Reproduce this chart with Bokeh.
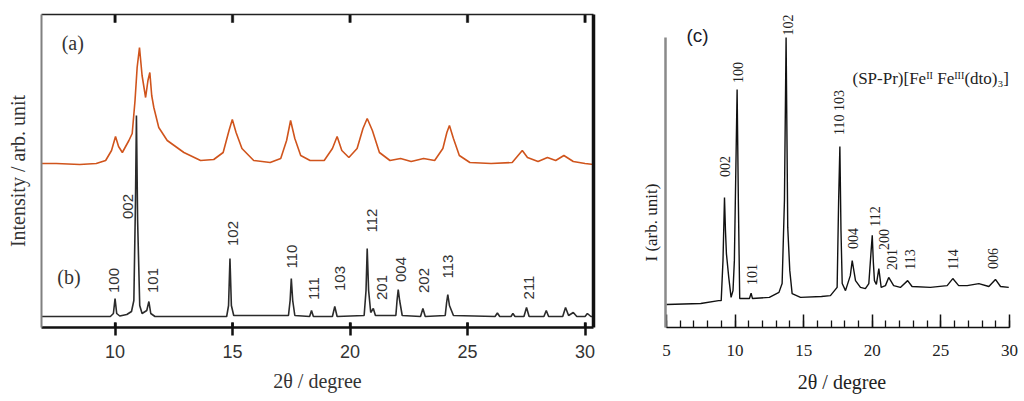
from math import pi
from bokeh.plotting import figure
from bokeh.models import Range1d, LinearAxis, FixedTicker, SingleIntervalTicker, ColumnDataSource, Title
from bokeh.layouts import row
from bokeh.core.properties import value
from bokeh.embed import file_html
from bokeh.resources import INLINE

# ---------------- Panel (a)/(b) data ----------------
two_theta_a = [6.87, 7.5, 8.5, 9.2, 9.6, 9.85, 10.02, 10.15, 10.31, 10.59, 10.73, 10.85, 10.94,
               11.04, 11.15, 11.3, 11.4, 11.48, 11.56, 11.65, 11.86, 12.22, 12.93, 13.64, 14.2,
               14.6, 14.85, 14.99, 15.15, 15.4, 15.9, 16.6, 17.05, 17.3, 17.47, 17.65, 17.9,
               18.3, 18.9, 19.25, 19.45, 19.65, 19.95, 20.3, 20.55, 20.73, 20.95, 21.25, 21.7,
               22.15, 22.6, 23.13, 23.6, 23.95, 24.12, 24.23, 24.4, 24.65, 25.1, 26.0, 26.9,
               27.15, 27.33, 27.55, 28.0, 28.4, 28.75, 29.1, 29.5, 30.0, 30.36]
intensity_a = [164, 164, 163, 164, 167, 177, 191, 181, 175, 187, 194, 227, 260,
               280, 252, 230, 247, 255, 232, 220, 200, 187, 175, 167, 168,
               175, 197, 208, 195, 179, 167, 165, 169, 187, 207, 189, 172,
               167, 167, 179, 191, 177, 170, 179, 199, 209, 197, 175, 167,
               169, 166, 169, 167, 179, 195, 202, 189, 172, 165, 164, 165,
               172, 177, 170, 166, 170, 167, 172, 166, 164, 163]

two_theta_b = [6.87, 9.8, 9.93, 10.0, 10.07, 10.2, 10.5, 10.7, 10.8, 10.87, 10.91, 10.96, 11.05,
               11.15, 11.35, 11.44, 11.52, 11.7, 14.75, 14.83, 14.89, 14.95, 15.05, 17.38,
               17.45, 17.5, 17.56, 17.65, 18.28, 18.36, 18.44, 19.25, 19.35, 19.45, 20.6,
               20.68, 20.73, 20.79, 20.88, 20.99, 21.08, 21.95, 22.0, 22.05, 22.11, 22.22,
               23.0, 23.1, 23.2, 24.05, 24.11, 24.16, 24.23, 24.4, 26.17, 26.27, 26.37,
               26.85, 26.93, 27.02, 27.4, 27.51, 27.62, 28.25, 28.35, 28.45, 29.05, 29.17,
               29.3, 29.5, 29.65, 30.0, 30.1, 30.25, 30.36]
intensity_b = [11, 11, 14, 29, 14, 11.5, 13, 16, 27, 127, 212, 107, 22,
               14, 17, 26, 14, 11, 11, 22, 69, 22, 12, 12,
               27, 49, 27, 12, 11, 17, 11, 11, 21, 11, 12,
               37, 79, 37, 15, 19, 12, 12, 27, 38, 27, 12,
               11, 19, 11, 12, 25, 33, 22, 12, 11, 14.5, 11,
               11, 14, 11, 11, 20, 11, 11, 17, 11, 11, 20,
               12, 15, 11, 11, 14, 11, 11]

hkl_b = ["100", "002", "101", "102", "110", "111", "103", "112", "201", "004", "202", "113", "211"]
hkl_b_x = [9.94, 10.53, 11.60, 15.0, 17.51, 18.45, 19.56, 20.92, 21.38, 22.15, 23.13, 24.15, 27.6]
hkl_b_y = [47, 121, 47, 94, 71, 39, 49, 107, 40, 58, 47, 61, 40]

ticks_ab = [10, 15, 20, 25, 30]

# ---------------- Panel (c) data ----------------
two_theta_c = [5.0, 7.5, 8.8, 8.99, 9.12, 9.23, 9.3, 9.37, 9.54, 9.71, 9.85, 9.95, 10.08, 10.15,
               10.24, 10.34, 11.05, 11.17, 11.27, 12.5, 13.2, 13.43, 13.6, 13.72, 13.84, 13.99,
               14.16, 14.77, 16.3, 16.95, 17.44, 17.55, 17.64, 17.72, 17.81, 18.05, 18.4, 18.54,
               18.78, 19.14, 19.5, 19.75, 19.92, 20.0, 20.08, 20.16, 20.3, 20.48, 20.65, 20.96,
               21.2, 21.56, 22.05, 22.58, 22.9, 24.24, 25.46, 25.87, 26.3, 26.92, 27.77, 28.5,
               28.98, 29.35, 29.95]
intensity_c = [9.2, 9.5, 10.5, 10.5, 24.1, 45.6, 34.4, 26.5, 18.4, 11.6, 13.9, 24.1, 61.6, 82.3,
               44.6, 11.2, 11.2, 13.0, 11.2, 11.6, 13.3, 16.3, 44.6, 100, 35.4, 20.7,
               12.9, 11.6, 11.9, 12.2, 15.0, 44.6, 62.9, 34.4, 16.3, 13.9, 19.0, 24.1,
               17.3, 15.0, 14.6, 16.3, 27.6, 32.7, 23.5, 17.3, 16.0, 21.4, 15.0, 15.6,
               18.4, 15.6, 15.0, 17.3, 15.3, 15.0, 15.6, 18.0, 15.6, 15.6, 16.3, 15.3,
               17.7, 15.3, 15.0]

hkl_c = ["002", "100", "101", "102", "110 103", "004", "112", "200", "201", "113", "114", "006"]
hkl_c_x = [9.30, 10.25, 11.27, 13.89, 17.61, 18.63, 20.23, 20.82, 21.47, 22.78, 25.92, 28.83]
hkl_c_y = [56.1, 88.1, 19.4, 104.2, 74.5, 31.6, 39.1, 31.3, 24.5, 24.5, 24.5, 24.8]

ORANGE = "#d0541c"
DARK = "#2b2b2b"
SANS = "Liberation Sans"
SERIF = "Liberation Serif"

# ================= Left figure =================
y_range_ab = Range1d(0, 313)   # 1 unit = 1 px of the frame
p1 = figure(width=620, height=400, output_backend="svg", toolbar_location=None,
            x_range=Range1d(6.87, 30.36), y_range=y_range_ab,
            min_border_left=41, min_border_right=27, min_border_top=14, min_border_bottom=73)
p1.outline_line_color = None
p1.xgrid.visible = False
p1.ygrid.visible = False
p1.background_fill_color = "white"
p1.border_fill_color = "white"

# inward tick marks on the top and bottom edges (frame decoration), drawn as thin bars
top_len, bottom_len = 8, 5
p1.vbar(x=ticks_ab, top=y_range_ab.end, bottom=y_range_ab.end - top_len, width=0.1,
        fill_color="#111111", line_color="#111111", line_width=0.5)
p1.vbar(x=ticks_ab, top=y_range_ab.start + bottom_len, bottom=y_range_ab.start, width=0.1,
        fill_color="#111111", line_color=None)

p1.line(two_theta_a, intensity_a, line_color=ORANGE, line_width=1.6)
p1.line(two_theta_b, intensity_b, line_color=DARK, line_width=1.6)

src_b = ColumnDataSource(dict(x=hkl_b_x, y=hkl_b_y, t=hkl_b))
p1.text(x="x", y="y", text="t", source=src_b, angle=pi / 2, text_align="center",
        text_baseline="middle", text_font=value(SANS), text_font_size="15px", text_color="#333333")
p1.text(x=[8.2], y=[285], text=["(a)"], text_align="center", text_baseline="middle",
        text_font=value(SERIF), text_font_size="20px", text_color="#333333")
p1.text(x=[8.04], y=[51], text=["(b)"], text_align="center", text_baseline="middle",
        text_font=value(SERIF), text_font_size="20px", text_color="#333333")

xa = p1.xaxis[0]
xa.ticker = FixedTicker(ticks=ticks_ab)
xa.axis_line_width = 2.5
xa.axis_line_color = "#111111"
xa.major_tick_line_width = 2.5
xa.major_tick_line_color = "#111111"
xa.major_tick_in = 5
xa.major_tick_out = 8
xa.minor_tick_line_color = None
xa.major_label_text_font = SANS
xa.major_label_text_font_size = "18px"
xa.major_label_text_color = "#333333"
xa.major_label_standoff = 9
xa.axis_label = "2θ / degree"
xa.axis_label_text_font = SERIF
xa.axis_label_text_font_size = "20px"
xa.axis_label_text_font_style = "normal"
xa.axis_label_text_color = "#333333"
xa.axis_label_standoff = 9

ya = p1.yaxis[0]
ya.ticker = FixedTicker(ticks=[])
ya.axis_line_color = "#808080"
ya.axis_line_width = 2
ya.major_tick_line_color = None
ya.minor_tick_line_color = None
ya.major_label_text_color = None
ya.major_label_standoff = 0
ya.axis_label = "Intensity / arb. unit"
ya.axis_label_text_font = SERIF
ya.axis_label_text_font_size = "20px"
ya.axis_label_text_font_style = "normal"
ya.axis_label_text_color = "#333333"
ya.axis_label_standoff = 13

top_axis = LinearAxis(ticker=FixedTicker(ticks=ticks_ab), minor_tick_line_color=None,
                      major_label_text_font_size="8px", major_label_text_color=None,
                      major_label_standoff=0, axis_line_width=1.5, axis_line_color="#222222",
                      major_tick_in=0, major_tick_out=0, major_tick_line_color=None)
p1.add_layout(top_axis, "above")
right_axis = LinearAxis(ticker=FixedTicker(ticks=[]), major_tick_line_color=None,
                        minor_tick_line_color=None, major_label_text_color=None,
                        major_label_standoff=0, axis_line_width=3.5, axis_line_color="#111111")
p1.add_layout(right_axis, "right")

# ================= Right figure =================
# frames of plots in a row are aligned, so the same top/bottom borders are used
p2 = figure(width=400, height=400, output_backend="svg", toolbar_location=None,
            x_range=Range1d(4.93, 30.66), y_range=Range1d(1.36, 107.8),
            min_border_left=45, min_border_right=2, min_border_top=14, min_border_bottom=73)
p2.outline_line_color = None
p2.xgrid.visible = False
p2.ygrid.visible = False
p2.background_fill_color = "white"
p2.border_fill_color = "white"

p2.line(two_theta_c, intensity_c, line_color="#111111", line_width=1.4)

src_c = ColumnDataSource(dict(x=hkl_c_x, y=hkl_c_y, t=hkl_c))
p2.text(x="x", y="y", text="t", source=src_c, angle=pi / 2, text_align="center",
        text_baseline="middle", text_font=value(SERIF), text_font_size="14px", text_color="#222222")
p2.text(x=[7.26], y=[100.7], text=["(c)"], text_align="center", text_baseline="middle",
        text_font=value(SANS), text_font_size="19px", text_color="#1a1a2a")
p2.text(x=[18.56], y=[86.1], text=["(SP-Pr)[Feᴵᴵ Feᴵᴵᴵ(dto)₃]"], text_align="left",
        text_baseline="middle", text_font=value(SERIF), text_font_size="17px", text_color="#222222")

xc = p2.xaxis[0]
xc.ticker = SingleIntervalTicker(interval=5, num_minor_ticks=5)
xc.bounds = (5, 30)
xc.axis_line_width = 1.5
xc.axis_line_color = "#111111"
xc.major_tick_in = 13
xc.major_tick_out = 0
xc.major_tick_line_width = 1.5
xc.major_tick_line_color = "#111111"
xc.minor_tick_in = 7
xc.minor_tick_out = 0
xc.minor_tick_line_width = 1.3
xc.minor_tick_line_color = "#111111"
xc.major_label_text_font = SERIF
xc.major_label_text_font_size = "17px"
xc.major_label_text_color = "#222222"
xc.major_label_standoff = 17
xc.axis_label = "2θ / degree"
xc.axis_label_text_font = SERIF
xc.axis_label_text_font_size = "20px"
xc.axis_label_text_font_style = "normal"
xc.axis_label_text_color = "#222222"
xc.axis_label_standoff = 12

yc = p2.yaxis[0]
yc.ticker = FixedTicker(ticks=[])
yc.bounds = (0, 100)
yc.axis_line_color = "#8a8a8a"
yc.axis_line_width = 2.5
yc.major_tick_line_color = None
yc.minor_tick_line_color = None
yc.major_label_text_color = None
yc.major_label_standoff = 0

ytitle = Title(text="I (arb. unit)", align="left", offset=66, standoff=10,
               text_font=SERIF, text_font_size="17px", text_font_style="normal",
               text_color="#222222")
p2.add_layout(ytitle, "left")

layout = row(p1, p2)
open("out.html", "w").write(file_html(layout, INLINE))
